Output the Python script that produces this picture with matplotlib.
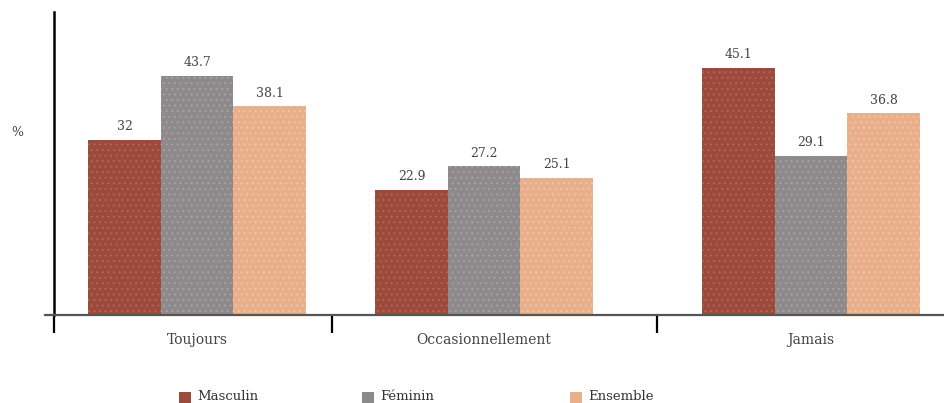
import matplotlib.pyplot as plt
from matplotlib.patches import Rectangle
from matplotlib.ticker import FixedLocator, NullFormatter
import numpy as np

# data
categories = ['Toujours', 'Occasionnellement', 'Jamais']
series = ['Masculin', 'Féminin', 'Ensemble']
masculin = [32, 22.9, 45.1]
feminin = [43.7, 27.2, 29.1]
ensemble = [38.1, 25.1, 36.8]

colors = ['#9c4a3b', '#8e898b', '#e8af8a']
hatch_colors = ['#b86a5a', '#aaa5a7', '#f3c9a8']

plt.rcParams['font.family'] = 'DejaVu Serif'
plt.rcParams['hatch.linewidth'] = 0.6

W, H = 944, 403
fig = plt.figure(figsize=(W / 100, H / 100), dpi=100)
ax = fig.add_axes([0.0, 0.218, 1.0, 0.752])

# group centres (in the axis' own units, spaced like the original)
centers = np.array([197, 484, 811])
width = 72.5
values = [masculin, feminin, ensemble]

for k, (name, vals) in enumerate(zip(series, values)):
    xs = centers + (k - 1) * width
    ax.bar(xs, vals, width, color=colors[k], edgecolor=hatch_colors[k],
           linewidth=0, hatch='...', label=name)
    for x, v in zip(xs, vals):
        ax.text(x, v + 1.2, f'{v:g}', ha='center', va='bottom', fontsize=9,
                color='#444444')

ax.set_xlim(0, W)
ax.set_ylim(0, 55.3)

for s in ['top', 'right']:
    ax.spines[s].set_visible(False)
ax.spines['left'].set_position(('data', 54))
ax.spines['left'].set_linewidth(1.8)
ax.spines['left'].set_color('black')
ax.spines['bottom'].set_color('#555555')
ax.spines['bottom'].set_linewidth(1.6)
ax.spines['bottom'].set_bounds(45, W)

ax.set_yticks([])
ax.set_xticks(centers)
ax.set_xticklabels(categories, fontsize=10, color='#444444')
ax.tick_params(axis='x', which='major', length=0, pad=13)
ax.xaxis.set_minor_locator(FixedLocator([54, 332, 657]))
ax.xaxis.set_minor_formatter(NullFormatter())
ax.tick_params(axis='x', which='minor', length=13, width=1.6, color='black')

fig.text(17, H - 133, '%', transform=None, fontsize=9, color='#444444',
         ha='center', va='center')

# legend, laid out by hand like the original
legend_x = [179, 362, 570]
for x0, name, c in zip(legend_x, series, colors):
    fig.patches.append(Rectangle((x0, H - 403), 12, 11, transform=None,
                                 facecolor=c, edgecolor='none'))
    fig.text(x0 + 18, H - 397, name, transform=None, fontsize=9.5,
             color='#333333', ha='left', va='center')

fig.savefig('out.png', dpi=100)
